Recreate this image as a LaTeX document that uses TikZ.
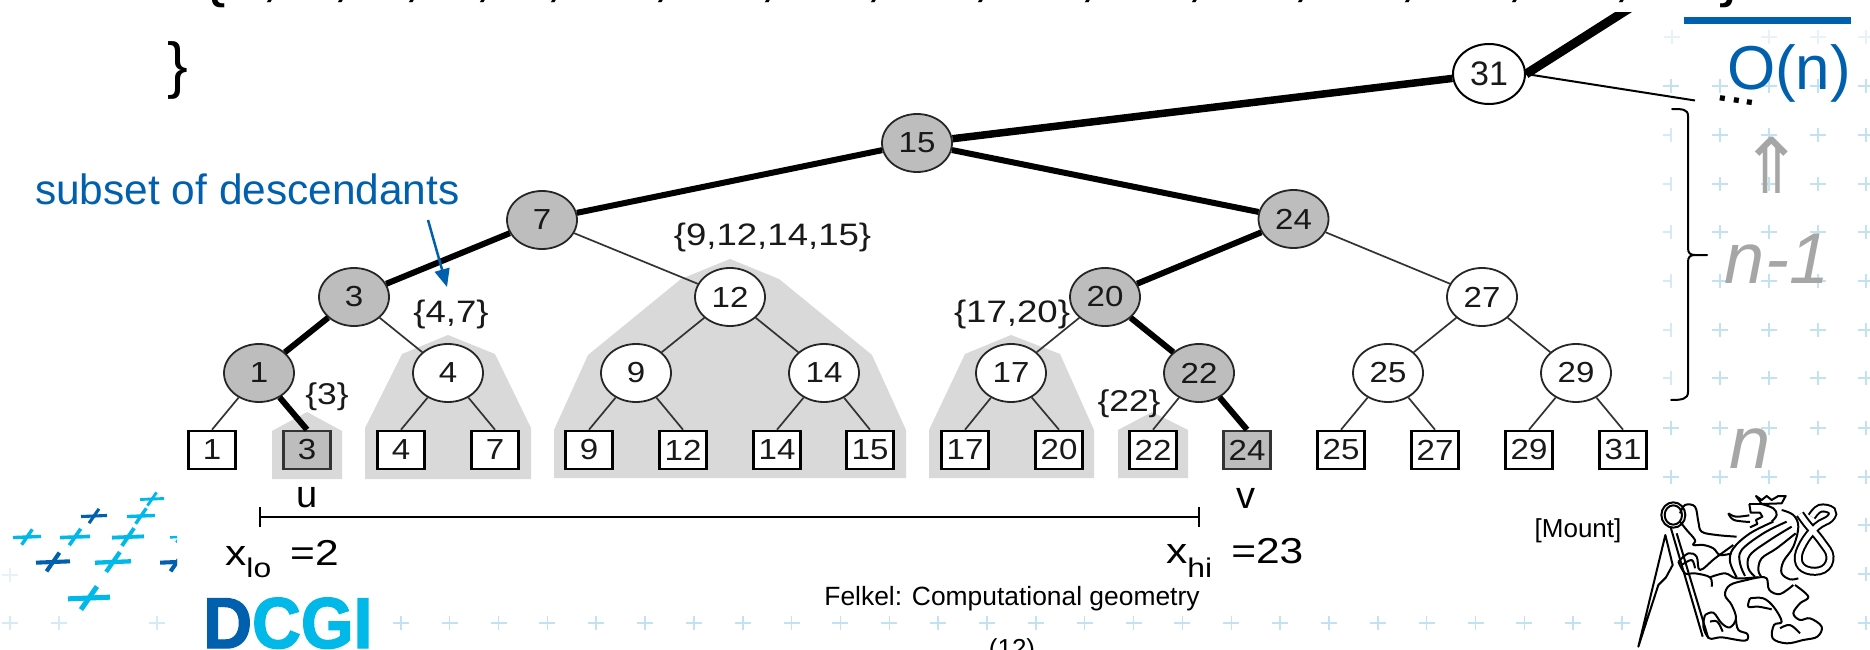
\documentclass[tikz,border=0pt]{standalone}
\usepackage{fontspec}
\usetikzlibrary{shapes.geometric,arrows.meta}
\setmainfont{Liberation Sans}
\newfontfamily\widefont{Liberation Sans}[FakeStretch=1.14]
\newfontfamily\labfont{Liberation Sans}[FakeStretch=1.18]
\newfontfamily\dcgifont{Liberation Sans}[BoldFeatures={FakeBold=2}]
\newfontfamily\djv{DejaVu Sans}
\newcommand\fsz[1]{\fontsize{#1}{#1}\selectfont}
\definecolor{dblue}{HTML}{0060AE}
\definecolor{lblue}{HTML}{00B9E8}
\definecolor{ngrey}{HTML}{BDBDBD}
\definecolor{hullc}{HTML}{D9D9D9}
\definecolor{tgrey}{HTML}{A6A6A6}
\definecolor{plusa}{HTML}{C2E1F1}
\definecolor{plusb}{HTML}{E6F2F8}
\tikzset{
  treenode/.style={ellipse,draw=black!85,line width=1.8,fill=white,minimum width=70,minimum height=58,inner sep=0,font=\widefont\fsz{29},text=black!90},
  greynode/.style={treenode,fill=ngrey},
  leafbox/.style={rectangle,draw=black,line width=2.6,fill=white,minimum width=47,minimum height=38,inner sep=0,font=\widefont\fsz{29},text=black!90},
  greyleaf/.style={leafbox,fill=ngrey,draw=black!80},
  thinedge/.style={line width=1.7,draw=black!80},
  thickedge/.style={line width=6,draw=black},
  heavyedge/.style={line width=7.5,draw=black},
  hull/.style={fill=hullc,draw=none},
  setlab/.style={anchor=base,inner sep=0,font=\labfont\fsz{31},text=black!90},
  plaintext/.style={anchor=base,inner sep=0},
  bgplus/.style={line width=1.5,draw=plusa},
  faintplus/.style={line width=1.5,draw=plusb},
  lionline/.style={line width=2,draw=black,line join=round}
}
\newcommand\logoplus[4]{%
  \draw[line width={#3*0.24},#4] ({#1-#3},{#2+.04*#3}) -- ({#1+#3},{#2-.04*#3});
  \draw[line width={#3*0.24},#4] ({#1+.38*#3},{#2-.55*#3}) -- ({#1-.38*#3},{#2+.55*#3});}
\newcommand\lionpath[1]{\draw[lionline] plot[smooth,tension=.6] coordinates {#1};}
\begin{document}
\begin{tikzpicture}[x=1pt,y=-1pt]
\useasboundingbox (0,0) rectangle (1870,650);
\fill[white] (0,0) rectangle (1870,650);
% background pluses
\foreach \py in {86,135,184,232,281,330,378,428,477}
  \foreach \px in {1720,1769,1818,1866}
    \draw[bgplus] (\px-8,\py) -- (\px+8,\py) (\px,\py-7) -- (\px,\py+7);
\foreach \py in {135,184,232,281,330,378}
  \draw[faintplus,draw=plusa!70] (1663,\py) -- (1671,\py) (1671,\py-7) -- (1671,\py+7);
\foreach \py in {86,428,477}
  \draw[bgplus] (1663,\py) -- (1679,\py) (1671,\py-7) -- (1671,\py+7);
\foreach \py in {525,574,623}
  \draw[bgplus] (1866-8,\py) -- (1866+8,\py) (1866,\py-7) -- (1866,\py+7);
\foreach \px in {1672,1769,1818,1866}
  \draw[faintplus] (\px-8,37) -- (\px+8,37) (\px,30) -- (\px,44);
\foreach \k in {8,...,33}
  \draw[bgplus] ({10+48.85*\k-8},623) -- ({10+48.85*\k+8},623) ({10+48.85*\k},616) -- ({10+48.85*\k},630);
\foreach \px in {10,59,157}
  \draw[bgplus,draw=plusa!70] (\px-8,623) -- (\px+8,623) (\px,616) -- (\px,630);
\draw[faintplus] (2,575) -- (18,575) (10,568) -- (10,582);
% hulls
\fill[hull] (272,479) -- (272,431) -- (307,412) -- (342,431) -- (342,479) -- cycle;
\fill[hull] (365,479) -- (365,428) -- (402,354) -- (448,335) -- (495,354) -- (531,428) -- (531,479) -- cycle;
\fill[hull] (554,478) -- (554,430) -- (588,355) -- (681,279) -- (730,259) -- (779,279) -- (872,355) -- (906,430) -- (906,478) -- cycle;
\fill[hull] (929,478) -- (929,430) -- (965,354) -- (1011,335) -- (1060,354) -- (1094,430) -- (1094,478) -- cycle;
\fill[hull] (1118,478) -- (1118,430) -- (1152,412) -- (1188,430) -- (1188,478) -- cycle;
% internal nodes
\node[treenode,minimum width=72,minimum height=60,font=\fsz{34},draw=black,line width=2] (n31) at (1489,74) {31};
\node[greynode] (n15) at (917,143) {15};
\node[greynode] (n7) at (542,220) {7};
\node[greynode] (n24) at (1293.5,219) {24};
\node[greynode] (n3) at (354,297) {3};
\node[treenode] (n12) at (730,297) {12};
\node[greynode] (n20) at (1105,297) {20};
\node[treenode] (n27) at (1482,297) {27};
\node[greynode] (n1) at (259,373) {1};
\node[treenode] (n4) at (448,373) {4};
\node[treenode] (n9) at (636,373) {9};
\node[treenode] (n14) at (824,373) {14};
\node[treenode] (n17) at (1011,373) {17};
\node[greynode] (n22) at (1199,373) {22};
\node[treenode] (n25) at (1388,373) {25};
\node[treenode] (n29) at (1576,373) {29};
% leaves
\node[leafbox] (l1) at (212,450) {1};
\node[greyleaf] (l3) at (307,450) {3};
\node[leafbox] (l4) at (401,450) {4};
\node[leafbox] (l7) at (495,450) {7};
\node[leafbox] (l9) at (589,450) {9};
\node[leafbox] (l12) at (683,450) {12};
\node[leafbox] (l14) at (777,450) {14};
\node[leafbox] (l15) at (870,450) {15};
\node[leafbox] (l17) at (965,450) {17};
\node[leafbox] (l20) at (1059,450) {20};
\node[leafbox] (l22) at (1153,450) {22};
\node[greyleaf] (l24) at (1247,450) {24};
\node[leafbox] (l25) at (1341,450) {25};
\node[leafbox] (l27) at (1435,450) {27};
\node[leafbox] (l29) at (1529,450) {29};
\node[leafbox] (l31) at (1623,450) {31};
% edges
\draw[heavyedge] (n31) -- (n15);
\draw[thickedge] (n15) -- (n7);
\draw[thickedge] (n15) -- (n24);
\draw[thickedge] (n7) -- (n3);
\draw[thickedge] (n3) -- (n1);
\draw[thickedge] (n1) -- (l3.north);
\draw[thickedge] (n24) -- (n20);
\draw[thickedge] (n20) -- (n22);
\draw[thickedge] (n22) -- (l24.north);
\foreach \a/\b in {n7/n12,n3/n4,n24/n27,n20/n17,n12/n9,n12/n14,n27/n25,n27/n29}
  \draw[thinedge] (\a) -- (\b);
\foreach \a/\b in {n1/l1,n4/l4,n4/l7,n9/l9,n9/l12,n14/l14,n14/l15,n17/l17,n17/l20,n22/l22,n25/l25,n25/l27,n29/l29,n29/l31}
  \draw[thinedge] (\a) -- (\b.north);
\coordinate (topright) at (1633,6);
\coordinate (sideright) at (1695,100.5);
\begin{scope}
  \clip (1400,13) rectangle (1700,200);
  \draw[heavyedge,line width=9] (n31.east) -- (topright);
\end{scope}
\draw[thinedge,draw=black,line width=2] (n31.east) -- (sideright);
% set labels
\node[setlab,font=\labfont\fsz{30}] (s3) at (327,404) {\{3\}};
\node[setlab] (s47) at (451,322) {\{4,7\}};
\node[setlab] (s9) at (772.5,245) {\{9,12,14,15\}};
\node[setlab] (s17) at (1012,322) {\{17,20\}};
\node[setlab,font=\labfont\fsz{30}] (s22) at (1129,411) {\{22\}};
% range
\coordinate (rlo) at (259,517);
\coordinate (rhi) at (1200,517);
\draw[line width=2,{Bar[width=20,length=2.2]}-{Bar[width=20,length=2.2]}] (rlo) -- (rhi);
\node[plaintext,font=\fsz{38}] (tu) at (307,507) {u};
\node[plaintext,font=\fsz{38}] (tv) at (1246,508) {v};
\node[plaintext,anchor=base west,font=\labfont\fsz{36}] (xlo) at (225,565) {x\raisebox{-12pt}{\fsz{27}lo}\hspace{19pt}=2};
\node[plaintext,anchor=base west,font=\labfont\fsz{36}] (xhi) at (1166,563) {x\raisebox{-14pt}{\fsz{27}hi}\hspace{19pt}=23};
% annotations
\node[plaintext,anchor=base west,font=\fsz{42.4},text=dblue] (sub) at (35,204) {subset of descendants};
\coordinate (aa) at (428,220);
\coordinate (ab) at (447,287);
\draw[line width=2.5,draw=dblue,-{Triangle[length=18,width=15]}] (aa) -- (ab);
\node[plaintext,font=\fsz{26}] (mount) at (1578,537) {[Mount]};
\node[plaintext,font=\fsz{26.4}] (felkel) at (1012,605.5) {Felkel: Computational geometry};
\node[plaintext,font=\fsz{26}] (page) at (1012,657) {(12)};
% top-left text
\node[plaintext,anchor=base west,font=\fsz{64}] (toplist) at (204,-5) {\{1, 3, 4, 7, 9, 12, 14, 15, 17, 20, 22, 24, 25, 27, 29, 31\}};
\node[plaintext,font=\fsz{62}] (closebrace) at (178,87) {\}};
% right column
\fill[dblue] (1684,17) rectangle (1851,24);
\node[plaintext,font=\fsz{62},text=dblue] (on) at (1789,90) {O(n)};
\node[plaintext,rotate=-9,font=\bfseries\fsz{36}] (dots) at (1736,103) {.\hspace{3.5pt}.\hspace{3.5pt}.};
\node[inner sep=0,font=\djv\fsz{77},text=tgrey] (uparrow) at (1772,165) {⇑};
\node[plaintext,font=\itshape\fsz{72},text=tgrey] (nm) at (1777,283) {n-1};
\node[plaintext,font=\itshape\fsz{74},text=tgrey] (nn) at (1750,468) {n};
\draw[line width=2,line cap=round] (1672,109) .. controls (1682,109) and (1688,109) .. (1688,116)
  -- (1688,248) .. controls (1688,253) and (1690,255) .. (1695,255) -- (1707,255)
  (1695,255) .. controls (1690,255) and (1688,257) .. (1688,262)
  -- (1688,392) .. controls (1688,399) and (1682,400) .. (1671,400);
% DCGI logo
\node[plaintext,anchor=base west,font=\dcgifont\bfseries\fsz{72}] (dcgi) at (203,648) {\scalebox{.94}[1]{\textcolor{dblue}{D}\textcolor{lblue}{CGI}}};
\logoplus{152}{499}{12}{lblue}
\logoplus{141}{516}{14}{lblue}
\logoplus{94}{516}{13}{dblue}
\logoplus{27}{537}{14}{lblue}
\logoplus{75}{537}{15}{lblue}
\logoplus{128}{537}{16}{lblue}
\logoplus{113}{562}{18}{lblue}
\logoplus{53}{562}{17}{dblue}
\logoplus{89}{598}{21}{lblue}
\begin{scope}
  \clip (160,520) rectangle (177,580);
  \logoplus{180}{537}{10}{lblue}
  \logoplus{177}{562}{17}{dblue}
\end{scope}
% CTU lion
\begin{scope}[shift={(1630,490)},x=.3333pt,y=-.3333pt]
  \draw[lionline] (130,75) ellipse [x radius=36,y radius=38];
  \draw[lionline] (130,75) ellipse [x radius=26,y radius=29];
  \draw[lionline] (25,470) -- (106,135) -- (128,225) -- (108,262) -- (85,285) -- cycle;
  \draw[lionline] (140,130) -- (235,445) (122,112) -- (218,440);
  \lionpath{(150,70) (165,45) (195,50) (205,95) (215,125) (260,135) (320,140)}
  \lionpath{(150,95) (170,120) (195,150) (190,165) (220,165) (250,175) (270,195) (305,190)}
  \lionpath{(145,215) (175,190) (200,200) (210,240) (255,205) (310,165)}
  \lionpath{(145,215) (165,250) (195,250) (240,262) (245,290)}
  \lionpath{(240,262) (285,250) (320,265) (385,262) (410,265) (418,300) (450,312) (490,285)}
  \lionpath{(430,95) (360,130) (310,175) (300,215) (320,262)}
  \lionpath{(470,95) (400,130) (335,180) (330,220) (345,258)}
  \lionpath{(485,110) (420,150) (360,195) (355,235) (375,260)}
  \lionpath{(497,130) (440,175) (395,205) (385,240) (395,262)}
  \lionpath{(455,60) (490,75) (505,110) (490,170) (460,215) (455,250) (480,268) (505,265)}
  \draw[lionline] (378,18) -- (395,30) -- (410,18) -- (425,30) -- (445,18) -- (467,18) -- (455,40) -- (395,42) -- cycle;
  \draw[lionline] (358,42) -- (362,68) -- (390,68) -- (397,80) -- (378,90) -- (382,102) -- (360,112);
  \draw[lionline] (358,42) -- (395,42);
  \lionpath{(295,70) (312,90) (360,96)}
  \lionpath{(295,70) (318,80) (358,76)}
  \lionpath{(395,42) (430,55) (440,75) (425,95)}
  \draw[line width=2,double,double distance=5] plot[smooth,tension=.7] coordinates {(510,72) (530,100) (575,155) (600,200) (580,238) (530,240) (505,210) (520,160) (560,110) (600,85) (605,62) (570,55) (545,80)};
  \lionpath{(225,375) (250,368) (275,400) (300,412) (318,385) (305,345) (285,315) (300,285) (350,270) (385,262)}
  \lionpath{(225,375) (220,410) (238,445) (275,442) (345,452) (352,432) (325,420) (318,390)}
  \lionpath{(240,395) (262,395) (278,425)}
  \lionpath{(360,325) (400,325) (432,352) (455,395) (432,405) (428,445) (470,460) (520,450) (562,440) (575,410) (540,385) (510,390) (490,370) (510,340) (535,320) (495,285)}
  \lionpath{(360,325) (355,350) (385,350) (425,358)}
  \lionpath{(450,415) (480,405) (510,430)}
  \lionpath{(155,225) (185,210) (195,235)}
\end{scope}
\end{tikzpicture}
\end{document}
